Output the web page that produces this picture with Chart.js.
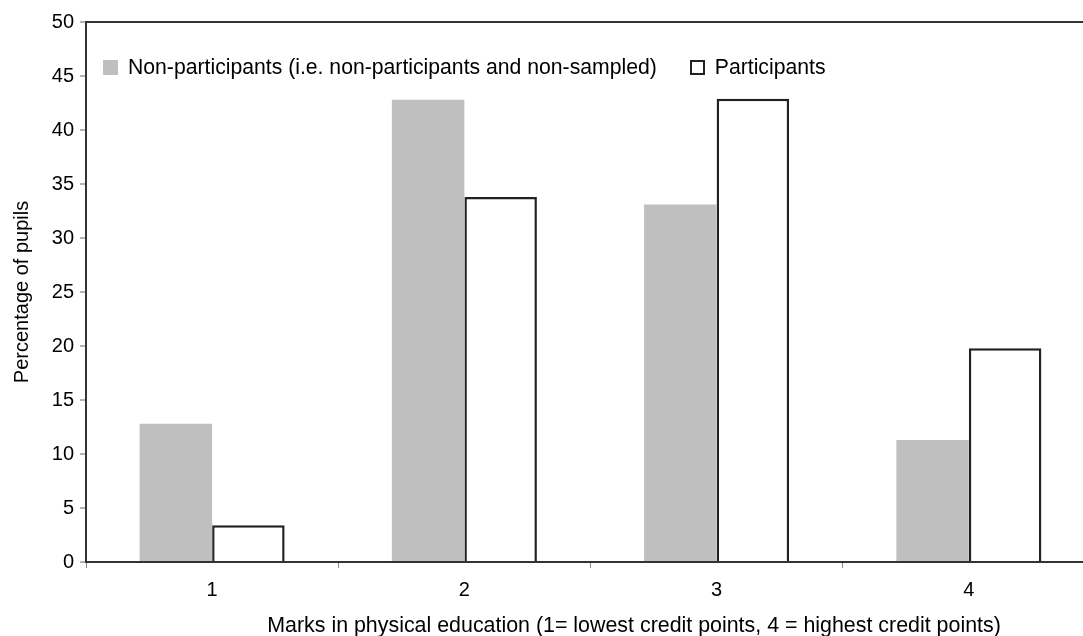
<!DOCTYPE html>
<html>
<head>
<meta charset="utf-8">
<script src="https://cdn.jsdelivr.net/npm/chart.js@4.4.1/dist/chart.umd.min.js"></script>
<style>
  html, body { margin: 0; padding: 0; background: #fff; overflow: hidden; }
  #wrap { position: relative; width: 1095px; height: 636px; font-family: "Liberation Sans", Arial, Helvetica, sans-serif; color: #000; }
  #legend { position: absolute; left: 103px; top: 55px; display: flex; align-items: center; font-size: 21.2px; line-height: 24px; }
  .item { display: flex; align-items: center; margin-right: 33px; }
  .swatch { width: 15px; height: 15px; box-sizing: border-box; margin-right: 10px; }
  #xTitle { position: absolute; left: 634px; top: 613px; transform: translateX(-50%); font-size: 21.4px; line-height: 24px; white-space: nowrap; }
</style>
</head>
<body>
<div id="wrap">
  <canvas id="chart"></canvas>
  <div id="legend"></div>
  <div id="xTitle"></div>
</div>
<script>
// Dữ liệu
const categories = ['1', '2', '3', '4'];
const seriesNames = ['Non-participants (i.e. non-participants and non-sampled)', 'Participants'];
const nonParticipants = [12.8, 42.8, 33.1, 11.3];
const participants = [3.4, 33.8, 42.9, 19.8];
const yTicks = [0, 5, 10, 15, 20, 25, 30, 35, 40, 45, 50];
const xAxisTitle = 'Marks in physical education (1= lowest credit points, 4 = highest credit points)';
const yAxisTitle = 'Percentage of pupils';

const FONT = '"Liberation Sans", Arial, Helvetica, sans-serif';
const fills = ['#bfbfbf', '#ffffff'];
const borders = ['#bfbfbf', '#222222'];
const borderWidths = [0, 2.5];

// Legend HTML nằm trong vùng vẽ
document.getElementById('legend').innerHTML = seriesNames.map((name, i) => `
  <div class="item">
    <span class="swatch" style="background:${fills[i]};${borderWidths[i] ? `border:2px solid ${borders[i]};` : ''}"></span>
    <span>${name}</span>
  </div>`).join('');
document.getElementById('xTitle').textContent = xAxisTitle;

new Chart(document.getElementById('chart'), {
  type: 'bar',
  data: {
    labels: categories,
    datasets: [nonParticipants, participants].map((data, i) => ({
      label: seriesNames[i],
      data,
      backgroundColor: fills[i],
      borderColor: borders[i],
      borderWidth: borderWidths[i],
      barPercentage: 1,
      categoryPercentage: 0.575
    }))
  },
  options: {
    responsive: true,
    maintainAspectRatio: false,
    animation: false,
    layout: { padding: { top: 22, right: 0, bottom: 0, left: 0 } },
    plugins: {
      legend: { display: false },
      tooltip: { enabled: false }
    },
    scales: {
      x: {
        z: 1,
        border: { color: '#333', width: 2 },
        grid: { offset: true, drawOnChartArea: false, tickLength: 6, tickColor: '#888', tickWidth: 1 },
        ticks: { color: '#000', padding: 10, font: { family: FONT, size: 20 } },
        afterFit: scale => { scale.height = 74; }
      },
      y: {
        min: yTicks[0],
        max: yTicks[yTicks.length - 1],
        afterBuildTicks: scale => { scale.ticks = yTicks.map(v => ({ value: v })); },
        border: { color: '#333', width: 2 },
        grid: {
          drawOnChartArea: true,
          color: ctx => (ctx.tick && ctx.tick.value === 50 ? '#333' : 'rgba(0,0,0,0)'),
          lineWidth: 2,
          tickColor: '#666',
          tickWidth: 1,
          tickLength: 6
        },
        ticks: { color: '#000', padding: 6, font: { family: FONT, size: 20 } },
        title: {
          display: true,
          text: yAxisTitle,
          color: '#000',
          padding: { top: 10, bottom: 0 },
          font: { family: FONT, size: 20 }
        },
        afterFit: scale => { scale.width = 86; }
      }
    }
  }
});
</script>
</body>
</html>
